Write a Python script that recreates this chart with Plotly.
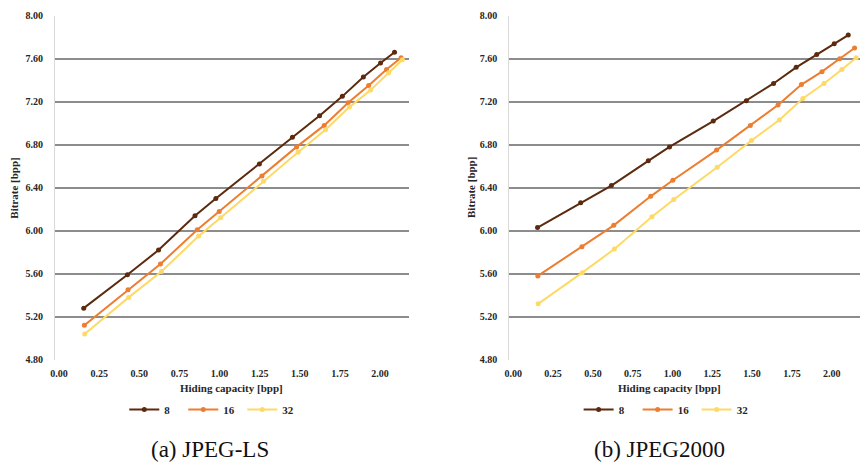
import plotly.graph_objects as go

# ---- data ----
series_names = ["8", "16", "32"]
colors = ["#5c2a0e", "#ed7d31", "#ffd966"]

# (a) JPEG-LS
ls_x_8 = [0.154, 0.426, 0.620, 0.847, 0.977, 1.248, 1.454, 1.623, 1.765, 1.896, 2.003, 2.090]
ls_y_8 = [5.28, 5.59, 5.82, 6.14, 6.30, 6.62, 6.87, 7.07, 7.25, 7.43, 7.56, 7.66]
ls_x_16 = [0.158, 0.430, 0.632, 0.861, 0.998, 1.264, 1.480, 1.652, 1.801, 1.929, 2.040, 2.131]
ls_y_16 = [5.12, 5.45, 5.69, 6.01, 6.18, 6.51, 6.78, 6.98, 7.19, 7.35, 7.50, 7.61]
ls_x_32 = [0.160, 0.434, 0.638, 0.870, 1.006, 1.274, 1.489, 1.660, 1.809, 1.941, 2.053, 2.139]
ls_y_32 = [5.04, 5.38, 5.62, 5.95, 6.12, 6.46, 6.73, 6.94, 7.15, 7.31, 7.47, 7.59]

# (b) JPEG2000
j2_x_8 = [0.152, 0.423, 0.616, 0.848, 0.981, 1.256, 1.464, 1.635, 1.777, 1.906, 2.016, 2.104]
j2_y_8 = [6.03, 6.26, 6.42, 6.65, 6.78, 7.02, 7.21, 7.37, 7.52, 7.64, 7.74, 7.82]
j2_x_16 = [0.154, 0.431, 0.631, 0.863, 1.002, 1.277, 1.489, 1.663, 1.810, 1.939, 2.050, 2.144]
j2_y_16 = [5.58, 5.85, 6.05, 6.32, 6.47, 6.75, 6.98, 7.17, 7.36, 7.48, 7.60, 7.70]
j2_x_32 = [0.156, 0.433, 0.635, 0.871, 1.008, 1.281, 1.496, 1.671, 1.819, 1.952, 2.064, 2.154]
j2_y_32 = [5.32, 5.61, 5.83, 6.13, 6.29, 6.59, 6.84, 7.03, 7.23, 7.37, 7.50, 7.61]

x_tick_vals = [0.00, 0.25, 0.50, 0.75, 1.00, 1.25, 1.50, 1.75, 2.00]
x_tick_text = ["0.00", "0.25", "0.50", "0.75", "1.00", "1.25", "1.50", "1.75", "2.00"]
y_tick_vals = [4.80, 5.20, 5.60, 6.00, 6.40, 6.80, 7.20, 7.60, 8.00]
y_tick_text = ["4.80", "5.20", "5.60", "6.00", "6.40", "6.80", "7.20", "7.60", "8.00"]

x_title = "Hiding capacity [bpp]"
y_title = "Bitrate [bpp]"
captions = ["(a) JPEG-LS", "(b) JPEG2000"]

W, H = 860, 470
SERIF = "Liberation Serif"

fig = go.Figure()

left = [(ls_x_8, ls_y_8), (ls_x_16, ls_y_16), (ls_x_32, ls_y_32)]
right = [(j2_x_8, j2_y_8), (j2_x_16, j2_y_16), (j2_x_32, j2_y_32)]

for i, (xs, ys) in enumerate(left):
    fig.add_trace(go.Scatter(x=xs, y=ys, mode="lines+markers", name=series_names[i],
                             line=dict(color=colors[i], width=2),
                             marker=dict(color=colors[i], size=5),
                             xaxis="x", yaxis="y", legend="legend"))
for i, (xs, ys) in enumerate(right):
    fig.add_trace(go.Scatter(x=xs, y=ys, mode="lines+markers", name=series_names[i],
                             line=dict(color=colors[i], width=2),
                             marker=dict(color=colors[i], size=5),
                             xaxis="x2", yaxis="y2", legend="legend2"))

tickfont = dict(family=SERIF, size=10, color="#262626", weight="bold")

def xaxis(domain, anchor):
    return dict(domain=domain, anchor=anchor, range=[-0.025, 2.178],
                tickvals=x_tick_vals, ticktext=x_tick_text, tickfont=tickfont,
                showgrid=False, zeroline=False, showline=False, ticks="",
                ticklabelstandoff=6, fixedrange=True)

def yaxis(domain, anchor):
    return dict(domain=domain, anchor=anchor, range=[4.80, 8.00],
                tickvals=y_tick_vals, ticktext=y_tick_text, tickfont=tickfont,
                showgrid=True, gridcolor="#8c8c8c", gridwidth=1.5,
                zeroline=False, showline=True, linecolor="#d9d9d9", linewidth=1,
                ticks="", ticklabelstandoff=9, fixedrange=True)

legend_font = dict(family=SERIF, size=11, color="#262626", weight="bold")
ydom = [1 - 363 / H, 1 - 10 / H]
fig.update_layout(
    width=W, height=H,
    margin=dict(l=0, r=0, t=0, b=0),
    paper_bgcolor="white", plot_bgcolor="white",
    xaxis=xaxis([50.3 / W, 406 / W], "y"),
    yaxis=yaxis(ydom, "x"),
    xaxis2=xaxis([507.3 / W, 1.0], "y2"),
    yaxis2=yaxis(ydom, "x2"),
    legend=dict(orientation="h", x=209 / W, y=1 - 414 / H, xanchor="center", yanchor="middle",
                font=legend_font, itemwidth=30, entrywidth=14, entrywidthmode="pixels",
                tracegroupgap=0, bgcolor="rgba(0,0,0,0)"),
    legend2=dict(orientation="h", x=666 / W, y=1 - 414 / H, xanchor="center", yanchor="middle",
                 font=legend_font, itemwidth=30, entrywidth=14, entrywidthmode="pixels",
                 tracegroupgap=0, bgcolor="rgba(0,0,0,0)"),
    showlegend=True,
)

title_font = dict(family=SERIF, size=11, color="#262626", weight="bold")
ann = [
    dict(text=y_title, x=9 / W, y=1 - 186.5 / H, textangle=-90, font=title_font),
    dict(text=y_title, x=468 / W, y=1 - 186.5 / H, textangle=-90, font=title_font),
    dict(text=x_title, x=228 / W, y=1 - 391.7 / H, font=title_font),
    dict(text=x_title, x=668 / W, y=1 - 391.7 / H, font=title_font),
    dict(text=captions[0], x=206 / W, y=1 - 455 / H, font=dict(family=SERIF, size=23, color="#111111")),
    dict(text=captions[1], x=658 / W, y=1 - 455 / H, font=dict(family=SERIF, size=23, color="#111111")),
]
for a in ann:
    a.update(xref="paper", yref="paper", showarrow=False, xanchor="center", yanchor="middle")
    fig.add_annotation(**a)

fig.write_html("out.html")
